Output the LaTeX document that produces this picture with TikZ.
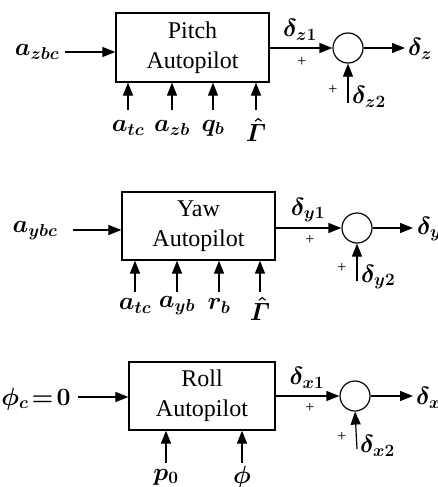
\documentclass[tikz,border=0pt]{standalone}
\usepackage{amsmath}
\usepackage{fontspec}
\setmainfont{Liberation Serif}
\usetikzlibrary{arrows.meta}
\begin{document}
\begin{tikzpicture}[x=1pt,y=-1pt,
  blk/.style={draw,line width=1.3pt,inner sep=0pt,align=center,font=\fontsize{24}{30}\selectfont},
  sum/.style={draw,circle,line width=1.2pt,minimum size=30pt,inner sep=0pt},
  sig/.style={line width=1.2pt,-{Triangle[length=13pt,width=10pt]}},
  lbl/.style={inner sep=0pt,font=\fontsize{24}{26}\selectfont\boldmath},
  pl/.style={inner sep=0pt,font=\fontsize{16}{16}\selectfont}]
\useasboundingbox (0,0) rectangle (438,487);

% ---------- Pitch ----------
\node[blk,minimum width=153pt,minimum height=69pt] (pb) at (192.5,47.5) {Pitch\\Autopilot};
\node[lbl] (pin) at (37,52) {$a_{zbc}$};
\coordinate (pin0) at (65,52);
\draw[sig] (pin0) -- (pin0 -| pb.west);
\node[sum] (ps) at (348,48) {};
\draw[sig] (pb.east |- ps) -- (ps.west);
\coordinate (pout) at (405,48);
\draw[sig] (ps.east) -- (pout);
\node[lbl,anchor=west] (pd) at (408,49) {$\delta_z$};
\node[lbl] (pd1) at (300,30) {$\delta_{z1}$};
\node[pl] (pp1) at (302,62) {+};
\coordinate (ps0) at (348,103);
\draw[sig] (ps0) -- (ps.south);
\node[pl] (pp2) at (333,90) {+};
\node[lbl,anchor=west] (pd2) at (352,97) {$\delta_{z2}$};
\foreach \x/\t/\n in {128/a_{tc}/1,172/a_{zb}/2,213/q_b/3}{
  \coordinate (pi\n) at (\x,110);
  \draw[sig] (pi\n) -- (pi\n |- pb.south);
  \node[lbl] (pl\n) at (\x,128) {$\t$};
}
\coordinate (pi4) at (256,110);
\draw[sig] (pi4) -- (pi4 |- pb.south);
\node[lbl] (pl4) at (256,130) {$\hat{\varGamma}$};

% ---------- Yaw ----------
\node[blk,minimum width=153pt,minimum height=68pt] (yb) at (198.5,226) {Yaw\\Autopilot};
\node[lbl] (yin) at (35,231) {$a_{ybc}$};
\coordinate (yin0) at (73,230);
\draw[sig] (yin0) -- (yin0 -| yb.west);
\node[sum] (ys) at (357,228) {};
\draw[sig] (yb.east |- ys) -- (ys.west);
\coordinate (yout) at (413,228);
\draw[sig] (ys.east) -- (yout);
\node[lbl,anchor=west] (yd) at (417,229) {$\delta_y$};
\node[lbl] (yd1) at (308,210) {$\delta_{y1}$};
\node[pl] (yp1) at (310,240) {+};
\coordinate (ys0) at (357,281);
\draw[sig] (ys0) -- (ys.south);
\node[pl] (yp2) at (342,268) {+};
\node[lbl,anchor=west] (yd2) at (361,277) {$\delta_{y2}$};
\foreach \x/\t/\n in {135/a_{tc}/1,177/a_{yb}/2,219/r_b/3}{
  \coordinate (yi\n) at (\x,292);
  \draw[sig] (yi\n) -- (yi\n |- yb.south);
  \node[lbl] (yl\n) at (\x,306) {$\t$};
}
\coordinate (yi4) at (260,292);
\draw[sig] (yi4) -- (yi4 |- yb.south);
\node[lbl] (yl4) at (260,309) {$\hat{\varGamma}$};

% ---------- Roll ----------
\node[blk,minimum width=146pt,minimum height=68pt] (rb) at (202,396) {Roll\\Autopilot};
\node[lbl] (rin) at (36,399) {$\phi_c\!=\!0$};
\coordinate (rin0) at (78,397);
\draw[sig] (rin0) -- (rin0 -| rb.west);
\node[sum] (rs) at (355,396) {};
\draw[sig] (rb.east |- rs) -- (rs.west);
\coordinate (rout) at (413,396);
\draw[sig] (rs.east) -- (rout);
\node[lbl,anchor=west] (rd) at (416,398) {$\delta_x$};
\node[lbl] (rd1) at (307,378) {$\delta_{x1}$};
\node[pl] (rp1) at (310,408) {+};
\coordinate (rs0) at (357,449);
\draw[sig] (rs0) -- (rs.south);
\node[pl] (rp2) at (342,437) {+};
\node[lbl,anchor=west] (rd2) at (360,446) {$\delta_{x2}$};
\foreach \x/\t/\n in {166/p_0/1,242/\phi/2}{
  \coordinate (ri\n) at (\x,463);
  \draw[sig] (ri\n) -- (ri\n |- rb.south);
  \node[lbl] (rl\n) at (\x,477) {$\t$};
}
\end{tikzpicture}
\end{document}
